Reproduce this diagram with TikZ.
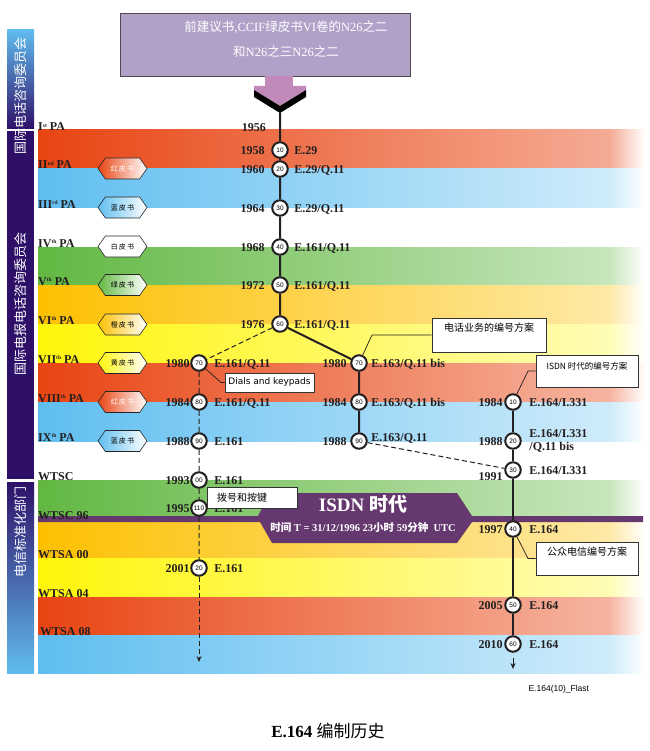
\documentclass[tikz,border=0pt]{standalone}
\usepackage{fontspec}
\setmainfont{Liberation Serif}
\setsansfont{Liberation Sans}
\newfontfamily\cjk{Noto Sans CJK SC}
\newfontfamily\dejavu{DejaVu Sans}
\usepackage{tikz}
\usetikzlibrary{shapes.symbols}
\usetikzlibrary{arrows.meta}
\usetikzlibrary{positioning}

\definecolor{bandred}{RGB}{232,68,18}
\definecolor{bandblue}{RGB}{95,190,240}
\definecolor{bandgreen}{RGB}{98,184,66}
\definecolor{bandorange}{RGB}{253,192,0}
\definecolor{bandyellow}{RGB}{255,245,10}
\definecolor{isdnpurple}{RGB}{101,57,112}
\definecolor{sidepurple}{RGB}{46,16,104}
\definecolor{sideblue}{RGB}{96,188,238}
\definecolor{boxlilac}{RGB}{177,161,201}
\definecolor{arrowpink}{RGB}{193,137,186}
\definecolor{linegray}{RGB}{35,31,32}

\newcommand\ordsup[1]{\raisebox{3.5pt}{\fontsize{5.5}{5.5}\selectfont #1}}

\begin{document}
\begin{tikzpicture}[
    x=1pt, y=-1pt,
    font=\bfseries\fontsize{12}{12}\selectfont
]
\tikzset{
    recnode/.style = {circle, draw=linegray, line width=2pt, fill=white, minimum size=15.5pt, inner sep=0pt, font=\sffamily\fontsize{6.5}{6.5}\selectfont},
    yearlbl/.style = {inner sep=0pt, text height=8.5pt, text depth=0pt, text=linegray},
    codelbl/.style = {inner sep=0pt, text height=8.5pt, text depth=0pt, text=linegray},
    palbl/.style = {anchor=base west, inner sep=0pt, text=linegray},
    sidelbl/.style = {rotate=90, text=white, inner sep=0pt, font=\cjk\fontsize{13}{13}\selectfont},
    bookhex/.style = {signal, signal to=east and west, signal pointer angle=110, draw=black!85, line width=0.6pt, minimum width=49pt, minimum height=21pt, inner sep=0pt, font=\cjk\fontsize{7}{7}\selectfont},
    notebox/.style = {rectangle, draw=black!80, fill=white, line width=0.8pt, font=\cjk\fontsize{10}{10}\selectfont},
    edgen/.style = {line width=2pt, draw=linegray},
    edged/.style = {line width=1pt, draw=linegray, dash pattern=on 5pt off 3pt},
    leader/.style = {line width=0.7pt, draw=linegray}
}
\useasboundingbox (0,0) rectangle (649,751);

% colour bands, strong on the left, pale on the right
\foreach \ya/\yb/\bc/\bp in {130/169/bandred/45, 169/208/bandblue/30, 247/285/bandgreen/35, 285/324/bandorange/35, 324/363/bandyellow/30, 363/402/bandred/40, 402/441/bandblue/30, 480/516/bandgreen/35, 522/558/bandorange/35, 558/597/bandyellow/30, 597/635/bandred/40, 635/673/bandblue/30}{
    \shade[left color=\bc, right color=\bc!\bp!white] (38,\ya) rectangle (610,\yb);
    \shade[left color=\bc!\bp!white, right color=white] (609.5,\ya) rectangle (645,\yb);
}

% ISDN era banner
\fill[isdnpurple] (270,493) -- (457,493) -- (472,516) -- (643,516) -- (643,522) -- (472,522) -- (457,543) -- (272,543) -- (260,522) -- (38,522) -- (38,516) -- (258,516) -- cycle;
\node[text=white, font=\bfseries\fontsize{19}{19}\selectfont] (isdnera) at (363,504) {ISDN {\cjk 时代}};
\node[text=white, font=\bfseries\fontsize{10.5}{10.5}\selectfont] (isdntime) at (363,528) {{\cjk 时间} T = 31/12/1996 23{\cjk 小时} 59{\cjk 分钟}\ \ UTC};

% side bar
\shade[top color=sideblue, bottom color=sidepurple] (7,30) rectangle (34,129);
\fill[sidepurple] (7,131) rectangle (34,479);
\shade[top color=sidepurple, bottom color=sideblue] (7,482) rectangle (34,673);
\node[sidelbl] (ccif) at (21,96) {国际电话咨询委员会};
\node[sidelbl] (ccitt) at (21,304) {国际电报电话咨询委员会};
\node[sidelbl] (itut) at (21,532) {电信标准化部门};

% earlier texts and arrow
\node[rectangle, draw=black!70, line width=0.8pt, fill=boxlilac, minimum width=290pt, minimum height=63pt] (prevbox) at (265,44.5) {};
\node[text=white, align=center, font=\mdseries\fontsize{12.5}{25}\selectfont] (prevtxt) at (286,39.5) {{\cjk 前建议书},CCIF{\cjk 绿皮书}VI{\cjk 卷的}N26{\cjk 之二}\\{\cjk 和}N26{\cjk 之三}N26{\cjk 之二}};
\fill[arrowpink] (265,76) rectangle (293,87);
\fill[arrowpink] (254,86) -- (306,86) -- (306,90) -- (280,106) -- (254,90) -- cycle;
\fill[black] (254,90) -- (280,106) -- (306,90) -- (306,97) -- (280,113) -- (254,97) -- cycle;
\coordinate (arrowtip) at (280,112);

% plenary assemblies
\node[palbl] (pa1) at (38,131) {I\ordsup{st} PA};
\node[palbl] (pa2) at (38,169) {II\ordsup{nd} PA};
\node[palbl] (pa3) at (38,208) {III\ordsup{rd} PA};
\node[palbl] (pa4) at (38,247) {IV\ordsup{th} PA};
\node[palbl] (pa5) at (38,285) {V\ordsup{th} PA};
\node[palbl] (pa6) at (38,324) {VI\ordsup{th} PA};
\node[palbl] (pa7) at (38,363) {VII\ordsup{th} PA};
\node[palbl] (pa8) at (38,402) {VIII\ordsup{th} PA};
\node[palbl] (pa9) at (38,441) {IX\ordsup{th} PA};
\node[palbl] (wtsc) at (38,480) {WTSC};
\node[palbl] (wtsc96) at (38,519) {WTSC 96};
\node[palbl] (wtsa00) at (38,558) {WTSA 00};
\node[palbl] (wtsa04) at (38,597) {WTSA 04};
\node[palbl] (wtsa08) at (40,635) {WTSA 08};

% books
\node[bookhex, left color=bandred, right color=white, text=white] (bk2) at (122.5,168.5) {红\,皮\,书};
\node[bookhex, left color=bandblue, right color=white] (bk3) at (122.5,207.5) {蓝\,皮\,书};
\node[bookhex, fill=white] (bk4) at (122.5,246.5) {白\,皮\,书};
\node[bookhex, left color=bandgreen, right color=white] (bk5) at (122.5,285) {绿\,皮\,书};
\node[bookhex, left color=bandorange, right color=white] (bk6) at (122.5,324.5) {橙\,皮\,书};
\node[bookhex, left color=bandyellow, right color=white] (bk7) at (122.5,363) {黄\,皮\,书};
\node[bookhex, left color=bandred, right color=white, text=white] (bk8) at (122.5,402) {红\,皮\,书};
\node[bookhex, left color=bandblue, right color=white] (bk9) at (122.5,441) {蓝\,皮\,书};

% editions
\node[recnode] (m10) at (280,150) {10};
\node[recnode] (m20) at (280,169) {20};
\node[recnode] (m30) at (280,208) {30};
\node[recnode] (m40) at (280,247) {40};
\node[recnode] (m50) at (280,285) {50};
\node[recnode] (m60) at (280,324) {60};
\node[recnode] (l70) at (199,363) {70};
\node[recnode] (l80) at (199,402) {80};
\node[recnode] (l90) at (199,441) {90};
\node[recnode] (l00) at (199,480) {00};
\node[recnode] (l110) at (199,508) {110};
\node[recnode] (l20) at (199,568) {20};
\node[recnode] (n70) at (359,363) {70};
\node[recnode] (n80) at (359,402) {80};
\node[recnode] (n90) at (359,441) {90};
\node[recnode] (r10) at (513,402) {10};
\node[recnode] (r20) at (513,441) {20};
\node[recnode] (r30) at (513,470) {30};
\node[recnode] (r40) at (513,529) {40};
\node[recnode] (r50) at (513,605) {50};
\node[recnode] (r60) at (513,644) {60};

% years and recommendations
\node[yearlbl, anchor=east] (y56) at (266,127) {1956};
\node[yearlbl, left=6.5pt of m10] (y58) {1958};
\node[codelbl, right=5.5pt of m10] (e58) {E.29};
\node[yearlbl, left=6.5pt of m20] (y60) {1960};
\node[codelbl, right=5.5pt of m20] (e60) {E.29/Q.11};
\node[yearlbl, left=6.5pt of m30] (y64) {1964};
\node[codelbl, right=5.5pt of m30] (e64) {E.29/Q.11};
\node[yearlbl, left=6.5pt of m40] (y68) {1968};
\node[codelbl, right=5.5pt of m40] (e68) {E.161/Q.11};
\node[yearlbl, left=6.5pt of m50] (y72) {1972};
\node[codelbl, right=5.5pt of m50] (e72) {E.161/Q.11};
\node[yearlbl, left=6.5pt of m60] (y76) {1976};
\node[codelbl, right=5.5pt of m60] (e76) {E.161/Q.11};

\node[yearlbl, left=0.5pt of l70] (ly80) {1980};
\node[codelbl, right=6.5pt of l70] (le80) {E.161/Q.11};
\node[yearlbl, left=0.5pt of l80] (ly84) {1984};
\node[codelbl, right=6.5pt of l80] (le84) {E.161/Q.11};
\node[yearlbl, left=0.5pt of l90] (ly88) {1988};
\node[codelbl, right=6.5pt of l90] (le88) {E.161};
\node[yearlbl, left=0.5pt of l00] (ly93) {1993};
\node[codelbl, right=6.5pt of l00] (le93) {E.161};
\node[yearlbl, left=0.5pt of l110] (ly95) {1995};
\node[codelbl, right=6.5pt of l110] (le95) {E.161};
\node[yearlbl, left=0.5pt of l20] (ly01) {2001};
\node[codelbl, right=6.5pt of l20] (le01) {E.161};

\node[yearlbl, left=3.5pt of n70] (ny80) {1980};
\node[codelbl, right=3.5pt of n70] (ne80) {E.163/Q.11 bis};
\node[yearlbl, left=3.5pt of n80] (ny84) {1984};
\node[codelbl, right=3.5pt of n80] (ne84) {E.163/Q.11 bis};
\node[yearlbl, left=3.5pt of n90] (ny88) {1988};
\node[codelbl, right=3.5pt of n90, yshift=4pt] (ne88) {E.163/Q.11};

\node[yearlbl, left=1.5pt of r10] (ry84) {1984};
\node[codelbl, right=7.5pt of r10] (re84) {E.164/I.331};
\node[yearlbl, left=1.5pt of r20] (ry88) {1988};
\node[anchor=west, inner sep=0pt, align=left, text=linegray, font=\bfseries\fontsize{12}{13}\selectfont, right=7.5pt of r20] (re88) {E.164/I.331\\/Q.11 bis};
\node[yearlbl, left=1.5pt of r30, yshift=-6pt] (ry91) {1991};
\node[codelbl, right=7.5pt of r30] (re91) {E.164/I.331};
\node[yearlbl, left=1.5pt of r40] (ry97) {1997};
\node[codelbl, right=7.5pt of r40] (re97) {E.164};
\node[yearlbl, left=1.5pt of r50] (ry05) {2005};
\node[codelbl, right=7.5pt of r50] (re05) {E.164};
\node[yearlbl, left=1.5pt of r60] (ry10) {2010};
\node[codelbl, right=7.5pt of r60] (re10) {E.164};

% timelines
\draw[edgen] (arrowtip) -- (m10) -- (m20) -- (m30) -- (m40) -- (m50) -- (m60) -- (n70) -- (n80) -- (n90);
\draw[edged] (m60) -- (l70) -- (l80) -- (l90) -- (l00) -- (l110) -- (l20);
\coordinate (lend) at (199,662);
\draw[edged, -{Stealth[length=6pt, width=5pt]}] (l20) -- (lend);
\draw[edged] (n90) -- (r30);
\draw[edgen] (r10) -- (r20) -- (r30) -- (r40) -- (r50) -- (r60);
\coordinate (rend) at (513,669);
\draw[linegray, line width=1pt, shorten <=5pt, -{Stealth[length=6pt, width=5pt]}] (r60) -- (rend);

% call-outs
\node[notebox, font=\dejavu\fontsize{9}{9}\selectfont, minimum width=89pt, minimum height=19pt] (dials) at (269.5,382.5) {Dials and keypads};
\draw[leader] (l70) -- (221,382.5) -- (dials.west);
\node[notebox, minimum width=114pt, text height=10pt, text depth=18pt, inner ysep=3pt] (telplan) at (489,335) {电话业务的编号方案};
\draw[leader] (n70) -- (372,335) -- (telplan.west);
\node[notebox, font=\cjk\fontsize{8.5}{8.5}\selectfont, minimum width=102pt, text height=11pt, text depth=15pt, inner ysep=3pt] (isdnplan) at (587,371) {ISDN 时代的编号方案};
\draw[leader] (r10) -- (528,371) -- (isdnplan.west);
\node[notebox, text width=70pt, align=left, inner xsep=10pt, minimum height=21pt] (dialcn) at (252,497.5) {拨号和按键};
\node[notebox, minimum width=102pt, text height=10pt, text depth=17pt, inner ysep=3pt] (pubplan) at (587,558.5) {公众电信编号方案};
\draw[leader] (r40) -- (528,558.5) -- (pubplan.west);

% captions
\node[anchor=west, font=\sffamily\mdseries\fontsize{8.5}{8.5}\selectfont] (figtag) at (525,689) {E.164(10)\_Flast};
\node[font=\bfseries\fontsize{17}{17}\selectfont] (title) at (328,731) {E.164 {\cjk\mdseries 编制历史}};
\end{tikzpicture}
\end{document}
